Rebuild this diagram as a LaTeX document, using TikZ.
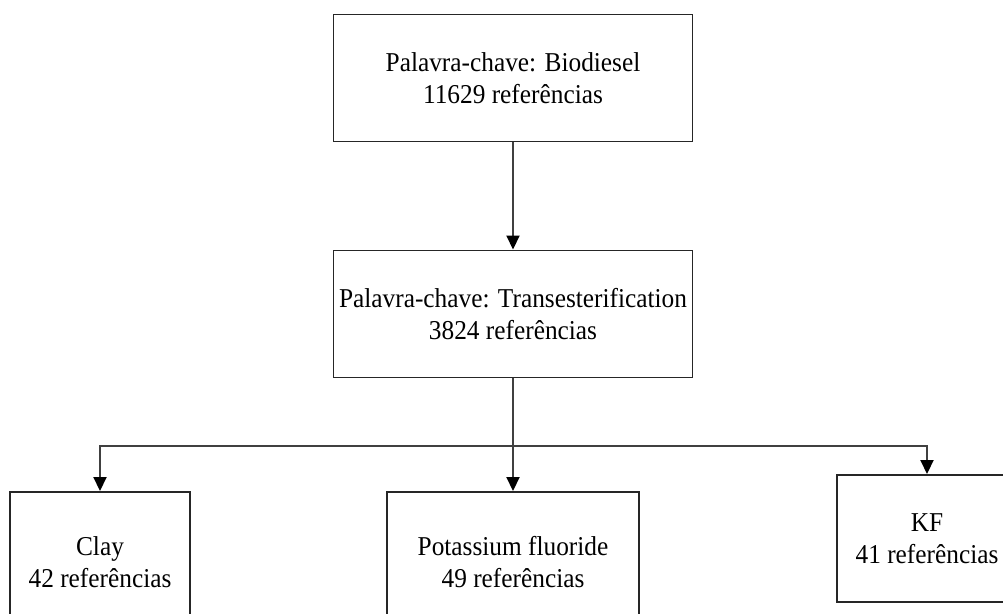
\documentclass[tikz,border=0pt]{standalone}
\usepackage{fontspec}
\setmainfont{Liberation Serif}[FakeStretch=0.93]
\usetikzlibrary{positioning, arrows.meta}
\tikzset{
    node distance=3cm, % distanza di base
    box/.style={draw=black!85, line width=1.1pt, fill=white, inner sep=0pt,
        align=center, font=\fontsize{15.5}{18.5}\selectfont}, % riquadri
    bigbox/.style={box, minimum width=7.18cm, minimum height=2.54cm},
    smallbox/.style={box, minimum width=3.6cm, minimum height=2.8cm},
}
\tikzstyle{link} = [draw=black!75, line width=1.1pt]
\tikzstyle{arrow} = [link, -{Triangle[width=0.26cm, length=0.28cm, color=black]}]

\begin{document}
\begin{tikzpicture}
                [on grid, auto]
                \clip (0,0) rectangle (20.06,12.28);
                % Riquadri
                \node[bigbox] (bio) at (10.26,10.72) {Palavra-chave: Biodiesel\\11629 refer\^encias};
                \node[bigbox] (trans) [below=4.72cm of bio] {Palavra-chave: Transesterification\\3824 refer\^encias};
                \node[smallbox, minimum width=5.04cm] (kfl) [below=4.96cm of trans] {Potassium fluoride\\49 refer\^encias};
                \node[smallbox] (clay) [left=8.26cm of kfl] {Clay\\42 refer\^encias};
                \node[smallbox, minimum height=2.54cm] (kf) [right=8.28cm of kfl, yshift=0.47cm] {KF\\41 refer\^encias};
                \coordinate[below=1.36cm of trans.south] (split);

                % Collegamenti
                \draw[arrow] (bio) -- (trans);
                \draw[link] (trans) -- (split);
                \draw[arrow] (split) -| (clay);
                \draw[arrow] (split) -- (kfl);
                \draw[arrow] (split) -| (kf);
            \end{tikzpicture}
\end{document}
